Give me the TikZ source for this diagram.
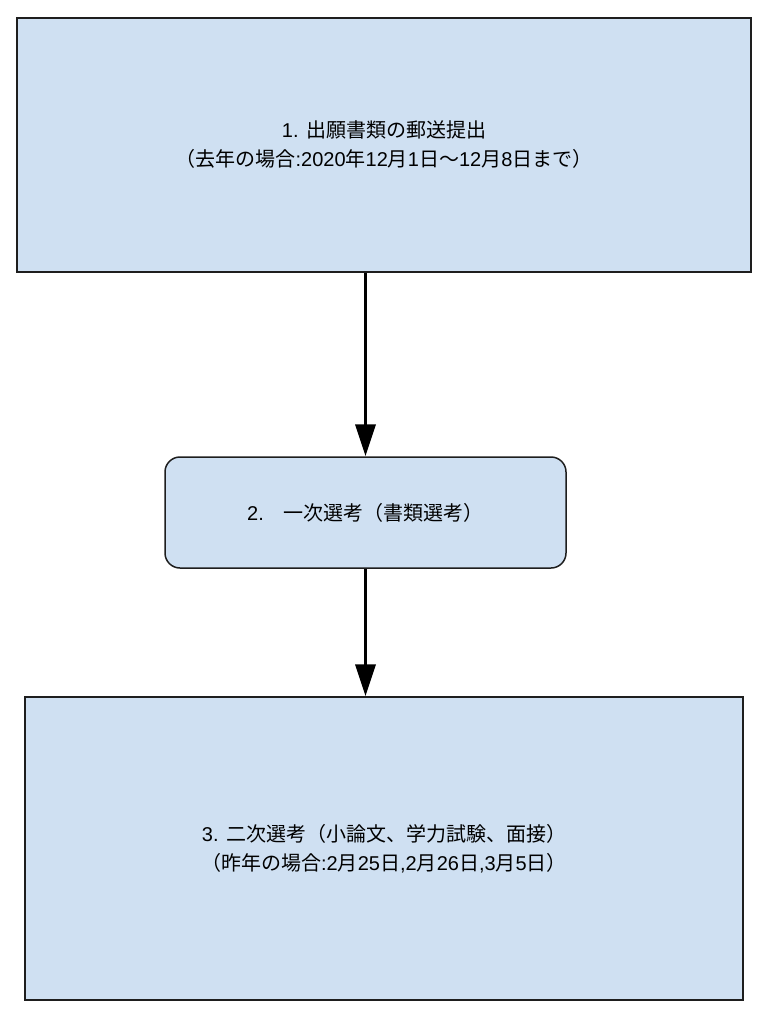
\documentclass[tikz,border=0pt]{standalone}
\usepackage{fontspec}
\setmainfont{Noto Sans CJK JP}
\newfontfamily\arialish{Liberation Sans}
\newcommand{\lt}[1]{{\arialish #1}}
\usetikzlibrary{arrows.meta,positioning}
\definecolor{boxblue}{RGB}{207,224,242}
\definecolor{boxline}{RGB}{30,30,30}
\tikzset{
  stagebox/.style={draw=boxline, line width=1.5pt, fill=boxblue, align=center,
    font=\fontsize{20}{29}\selectfont, inner sep=0pt},
  flowarrow/.style={-{Triangle[length=32pt,width=20pt]}, line width=3.5pt, black}
}
\begin{document}
\begin{tikzpicture}[x=1pt, y=-1pt]
\useasboundingbox (0,0) rectangle (771,1024);

\node [stagebox, minimum width=734pt, minimum height=254pt] (apply) at (384,145)
  {\lt{1. }出願書類の郵送提出\\（去年の場合\lt{:2020}年\lt{12}月\lt{1}日～\lt{12}月\lt{8}日まで）};
\node [stagebox, rounded corners=15pt, minimum width=401pt, minimum height=111pt] (first) at (365.5,512.5)
  {\lt{2.}\quad 一次選考（書類選考）};
\node [stagebox, minimum width=718pt, minimum height=303pt] (second) at (384,848.5)
  {\lt{3. }二次選考（小論文、学力試験、面接）\\（昨年の場合\lt{:2}月\lt{25}日\lt{,2}月\lt{26}日\lt{,3}月\lt{5}日）};

\draw [flowarrow] (apply.south -| first) -- (first.north);
\draw [flowarrow] (first.south) -- (second.north -| first);

\end{tikzpicture}
\end{document}
